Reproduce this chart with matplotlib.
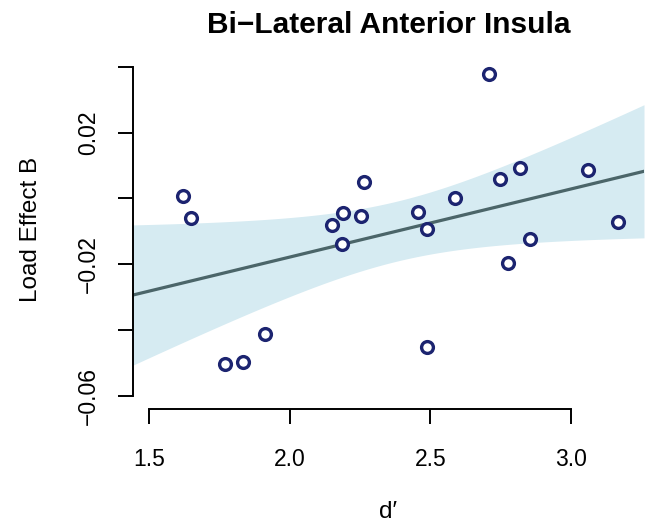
import numpy as np
import matplotlib
matplotlib.use("Agg")
import matplotlib.pyplot as plt

plt.rcParams['font.family'] = ['Liberation Sans', 'DejaVu Sans']

# d' and load effect values
dprime = np.array([1.621, 1.647, 2.709, 2.819, 2.748, 3.062, 2.265, 2.589, 2.457, 2.190, 2.252,
                   2.150, 2.489, 2.187, 3.167, 2.855, 2.777, 1.912, 2.489, 1.832, 1.768])
load_b = np.array([0.0008, -0.0059, 0.0377, 0.0092, 0.0059, 0.0087, 0.0050, 0.0000, -0.0040, -0.0043, -0.0054,
                   -0.0080, -0.0093, -0.0140, -0.0072, -0.0122, -0.0196, -0.0413, -0.0452, -0.0498, -0.0502])

xticks = [1.5, 2.0, 2.5, 3.0]
yticks = [-0.06, -0.04, -0.02, 0.0, 0.02, 0.04]
ylabels = ['\u22120.06', '', '\u22120.02', '', '0.02', '']

# linear fit + 95% confidence band
n = len(dprime)
slope, icpt = np.polyfit(dprime, load_b, 1)
resid = load_b - (icpt + slope * dprime)
s = np.sqrt(np.sum(resid ** 2) / (n - 2))
xm = dprime.mean()
sxx = np.sum((dprime - xm) ** 2)
tq = 2.093  # t(0.975, df=19)
xg = np.linspace(1.442, 3.26, 200)
yg = icpt + slope * xg
half = tq * s * np.sqrt(1.0 / n + (xg - xm) ** 2 / sxx)

fig = plt.figure(figsize=(6.5, 5.27), dpi=100)
W, H = 650, 527
ax = fig.add_axes([133 / W, (H - 409) / H, (644 - 133) / W, (409 - 50) / H])

ax.fill_between(xg, yg - half, yg + half, color='#d6ebf2', lw=0, zorder=1)
ax.plot(xg, yg, color='#4b6569', lw=2.3, zorder=2)
ax.plot(dprime, load_b, 'o', mfc='white', mec='#1c2470', ms=8.5, mew=2.4, zorder=3)

ax.set_xlim(1.442, 3.26)
ax.set_ylim(-0.0640, 0.0451)

for side in ['top', 'right']:
    ax.spines[side].set_visible(False)
ax.spines['left'].set_bounds(-0.06, 0.04)
ax.spines['bottom'].set_bounds(1.5, 3.0)
ax.spines['left'].set_linewidth(1.4)
ax.spines['bottom'].set_linewidth(1.4)

ax.set_xticks(xticks)
ax.set_xticklabels(['1.5', '2.0', '2.5', '3.0'], fontsize=16.5)
ax.set_yticks(yticks)
ax.set_yticklabels(ylabels, fontsize=16.5, rotation=90, va='center')
ax.tick_params(length=11, width=1.4)
ax.tick_params(axis='x', pad=17)
ax.tick_params(axis='y', pad=13)

ax.set_xlabel('d\u2032', fontsize=17.5)
ax.xaxis.set_label_coords(0.5, -0.255)
ax.set_ylabel('Load Effect B', fontsize=17.5)
ax.yaxis.set_label_coords(-0.178, 0.5)
ax.set_title('Bi\u2212Lateral Anterior Insula', fontsize=21.5, fontweight='bold', pad=12)

fig.savefig('out.png', dpi=100)
